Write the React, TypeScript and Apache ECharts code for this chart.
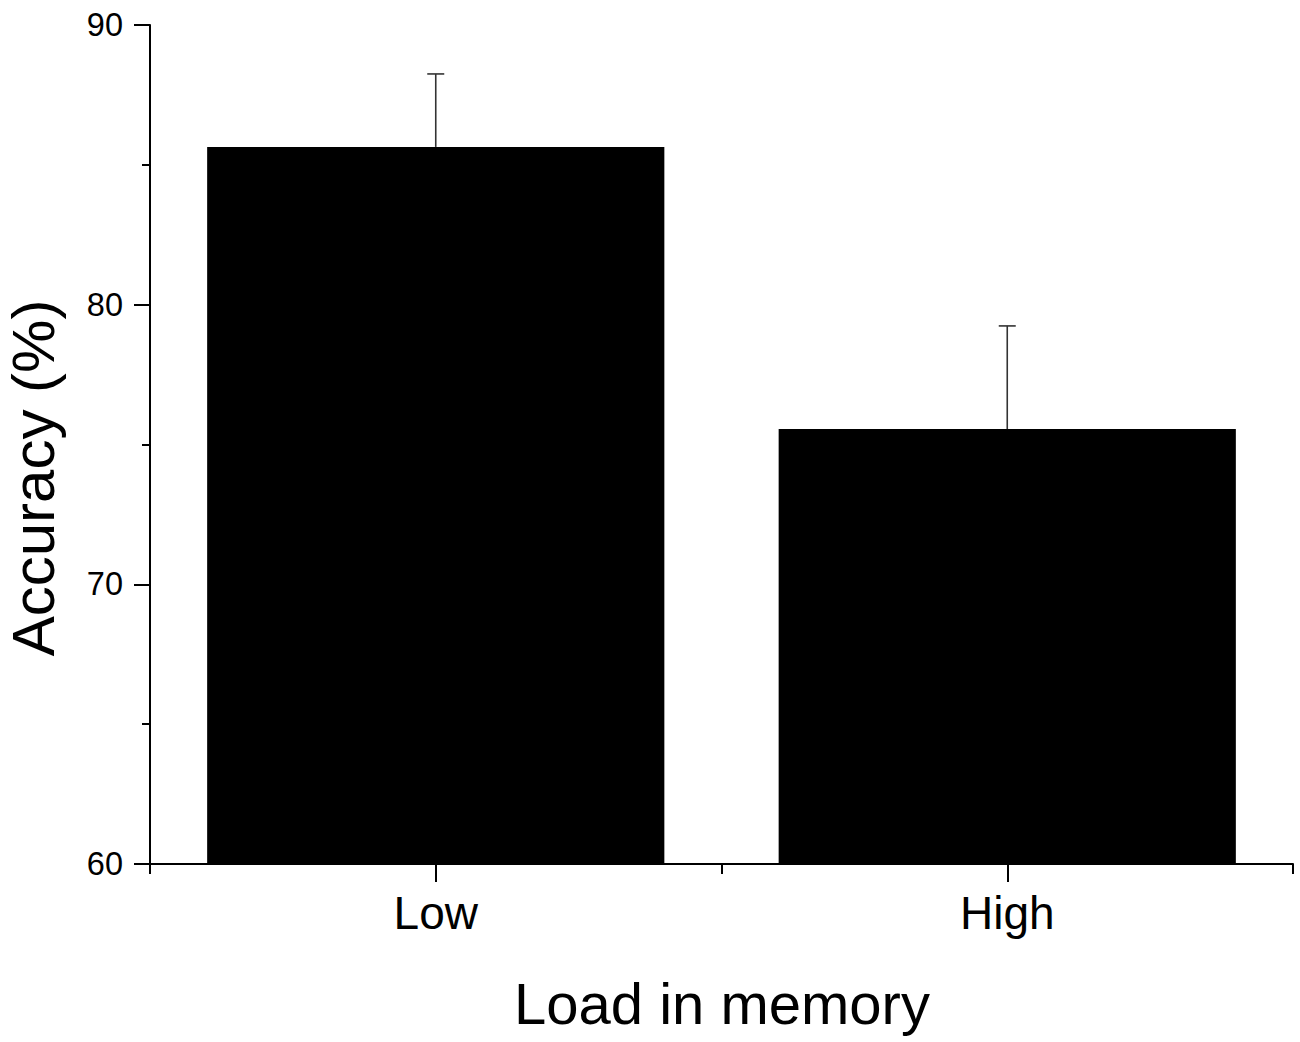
import React, { useEffect, useRef } from "react";
import * as echarts from "echarts";

const categories = ["Low", "High"];
const means = [85.64, 75.55];
const errors = [2.61, 3.69];
const yTicks = { min: 60, max: 90, interval: 10 };
const xTitle = "Load in memory";
const yTitle = "Accuracy (%)";

const FONT = "'Liberation Sans', Arial, Helvetica, sans-serif";

export default function App() {
  const ref = useRef<HTMLDivElement>(null);
  useEffect(() => {
    if (!ref.current) return;
    const chart = echarts.init(ref.current, null, { renderer: "svg" });
    const errData = categories.map((c, i) => [i, means[i], means[i] + errors[i]]);
    chart.setOption({
      animation: false,
      backgroundColor: "#ffffff",
      grid: { left: 150, top: 25, right: 7, bottom: 178, containLabel: false },
      xAxis: [
        {
          type: "category",
          data: categories,
          position: "bottom",
          axisLine: { show: true, lineStyle: { color: "#000", width: 2 } },
          axisTick: { show: true, alignWithLabel: true, length: 18, lineStyle: { color: "#000", width: 2 } },
          axisLabel: { color: "#000", fontSize: 46, fontFamily: FONT, margin: 26 },
          splitLine: { show: false },
        },
        {
          type: "category",
          data: categories,
          position: "bottom",
          axisLine: { show: false },
          axisTick: { show: true, alignWithLabel: false, length: 10, lineStyle: { color: "#000", width: 2 } },
          axisLabel: { show: false },
          splitLine: { show: false },
        },
      ],
      yAxis: {
        type: "value",
        min: yTicks.min,
        max: yTicks.max,
        interval: yTicks.interval,
        axisLine: { show: true, lineStyle: { color: "#000", width: 2 } },
        axisTick: { show: true, length: 16, lineStyle: { color: "#000", width: 2 } },
        minorTick: { show: true, splitNumber: 2, length: 8, lineStyle: { color: "#000", width: 2 } },
        axisLabel: { color: "#000", fontSize: 32.5, fontFamily: FONT, margin: 27 },
        splitLine: { show: false },
        minorSplitLine: { show: false },
      },
      graphic: [
        {
          type: "text",
          x: 33,
          y: 478,
          rotation: Math.PI / 2,
          style: {
            text: yTitle,
            font: `60px ${FONT}`,
            fill: "#000",
            textAlign: "center",
            textVerticalAlign: "middle",
          },
        },
        {
          type: "text",
          x: 722,
          y: 1003,
          style: {
            text: xTitle,
            font: `58px ${FONT}`,
            fill: "#000",
            textAlign: "center",
            textVerticalAlign: "middle",
          },
        },
      ],
      series: [
        {
          type: "bar",
          xAxisIndex: 0,
          data: means,
          barWidth: "80%",
          itemStyle: { color: "#000" },
          z: 2,
        },
        {
          type: "custom",
          xAxisIndex: 0,
          data: errData,
          z: 3,
          renderItem: (params: any, api: any) => {
            const x = api.value(0);
            const base = api.coord([x, api.value(1)]);
            const top = api.coord([x, api.value(2)]);
            const half = 8.5;
            const style = { stroke: "#333", lineWidth: 1.6, fill: "none" };
            return {
              type: "group",
              children: [
                { type: "line", shape: { x1: top[0], y1: base[1], x2: top[0], y2: top[1] }, style },
                { type: "line", shape: { x1: top[0] - half, y1: top[1], x2: top[0] + half, y2: top[1] }, style },
              ],
            };
          },
        },
      ],
    });
    return () => chart.dispose();
  }, []);
  return (
    <div
      ref={ref}
      style={{ position: "absolute", left: 0, top: 0, width: 1300, height: 1042, background: "#fff" }}
    />
  );
}
